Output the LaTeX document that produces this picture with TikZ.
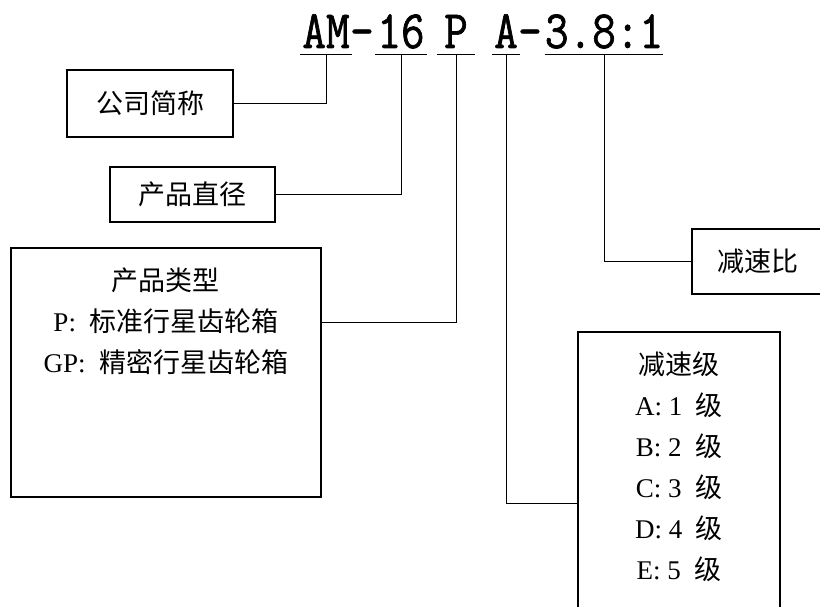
\documentclass[tikz,border=0pt]{standalone}
\usepackage{fontspec}
\setmainfont{Liberation Serif}
\newfontfamily\cjk{Noto Sans CJK SC}
\newfontfamily\codefont[FakeStretch=0.85,FakeBold=1.2]{Latin Modern Mono}
\newcommand{\zh}[1]{{\cjk #1}}

\begin{document}
\begin{tikzpicture}[x=1pt,y=-1pt,
	box/.style={draw,line width=1.2pt,inner sep=0pt,font=\fontsize{27}{41}\selectfont},
	seg/.style={font=\fontsize{54}{54}\codefont,inner xsep=2pt,inner ysep=0pt,text height=34pt,text depth=6pt,anchor=base},
	uline/.style={line width=1.1pt},
	link/.style={line width=1pt},
	txt/.style={font=\fontsize{27}{41}\selectfont,align=center,inner sep=0pt}]
	\clip (0,0) rectangle (820,607);
	\fill[white] (0,0) rectangle (820,607);
	\node[seg] (am) at (326,48) {AM};
	\node[seg] (dash1) at (362,48) {-};
	\node[seg] (n16) at (401,48) {16};
	\node[seg,minimum width=38pt] (p) at (456,48) {P};
	\node[seg] (a) at (506,48) {A};
	\node[seg] (dash2) at (530,48) {-};
	\node[seg,inner xsep=0pt] (r) at (604,48) {3.8:1};
	\foreach \n in {am,n16,p,a,r}
		\draw[uline] (\n.south west) -- (\n.south east);
	\node[box,minimum width=166pt,minimum height=67pt] (firm) at (150,103.5) {\zh{公司简称}};
	\node[box,minimum width=165pt,minimum height=55pt] (dia) at (192.5,194.5) {\zh{产品直径}};
	\node[box,minimum width=310pt,minimum height=249pt] (typebox) at (166,372.5) {};
	\node[txt,anchor=north] (typetext) at (166,268) {\zh{产品类型}\\P:\enspace\zh{标准行星齿轮箱}\\GP:\enspace\zh{精密行星齿轮箱}};
	\node[box,minimum width=132pt,minimum height=65pt] (ratio) at (758,261.5) {\zh{减速比}};
	\node[box,minimum width=202pt,minimum height=300pt] (stagebox) at (679,482) {};
	\node[txt,anchor=north] (stagetext) at (679,352) {\zh{减速级}\\A: 1\enspace\zh{级}\\B: 2\enspace\zh{级}\\C: 3\enspace\zh{级}\\D: 4\enspace\zh{级}\\E: 5\enspace\zh{级}};
	\draw[link] (firm.east) -| (am.south);
	\draw[link] (dia.east) -| (n16.south);
	\draw[link] ([yshift=-75pt]typebox.north east) -| (p.south);
	\draw[link] (ratio.west) -| (r.south);
	\draw[link] ([yshift=-172pt]stagebox.north west) -| (a.south);
\end{tikzpicture}
\end{document}
